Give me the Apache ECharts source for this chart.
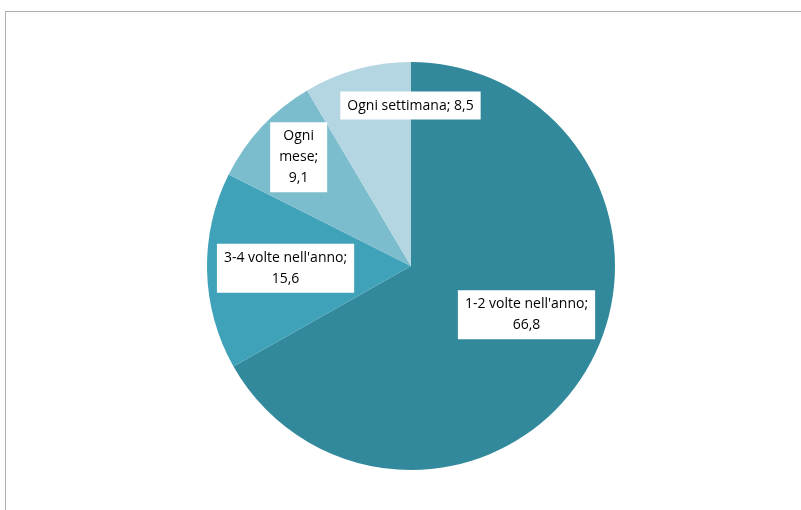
<!DOCTYPE html>
<html>
<head>
<meta charset="utf-8">
<style>
  html, body { margin: 0; padding: 0; background: #ffffff; }
  #frame { position: absolute; left: 5px; top: 11px; width: 810px; height: 520px;
           border: 1px solid #adadad; box-sizing: border-box; }
  #chart { position: absolute; left: 0; top: 0; width: 801px; height: 510px; }
</style>
<script src="https://cdn.jsdelivr.net/npm/echarts@6/dist/echarts.min.js"></script>
</head>
<body>
<div id="frame"></div>
<div id="chart"></div>
<script>
// Frequency categories (clockwise from 12 o'clock) and their shares (%)
const categories = ['1-2 volte nell\'anno', '3-4 volte nell\'anno', 'Ogni mese', 'Ogni settimana'];
const values = [66.8, 15.6, 9.1, 8.5];
// Text shown in each label (line breaks as they appear in the boxes)
const labelNames = ['1-2 volte nell\'anno;', '3-4 volte nell\'anno;', 'Ogni\nmese;', 'Ogni settimana;'];
const labelSeparators = ['\n', '\n', '\n', ' '];

const colors = ['#32899b', '#3fa2b9', '#7bbccd', '#b4d6e2'];

// Label placement: radial distance as a fraction of the radius, plus a small nudge
const labelRadiusFrac = [0.61, 0.625, 0.76, 0.79];
const labelNudge = [[8, -14], [2, -1], [1, -3], [42, -5]];
// Box padding per label (the narrow "Ogni mese" box is a little wider)
const labelPadding = [[4, 7, 3, 7], [4, 7, 3, 7], [4, 9, 3, 9], [4, 7, 3, 7]];

const CX = 411, CY = 266, R = 204;
const total = values.reduce((a, b) => a + b, 0);

const chart = echarts.init(document.getElementById('chart'), null, { renderer: 'canvas' });

function fmt(v) { return v.toFixed(1).replace('.', ','); }

chart.setOption({
  animation: false,
  series: [{
    type: 'pie',
    center: [CX, CY],
    radius: [0, R],
    startAngle: 90,
    clockwise: true,
    avoidLabelOverlap: false,
    itemStyle: { borderWidth: 0 },
    label: {
      show: true,
      position: 'inside',
      color: '#000000',
      backgroundColor: '#ffffff',
      fontFamily: 'Open Sans, Liberation Sans, Arial, sans-serif',
      fontSize: 14,
      lineHeight: 21,
      padding: [4, 7, 3, 7],
      align: 'center',
      formatter: p => labelNames[p.dataIndex] + labelSeparators[p.dataIndex] + fmt(p.value)
    },
    labelLine: { show: false },
    labelLayout: function (params) {
      const i = params.dataIndex;
      let before = 0;
      for (let k = 0; k < i; k++) before += values[k];
      const mid = (before + values[i] / 2) / total * Math.PI * 2;
      const r = R * labelRadiusFrac[i];
      return {
        x: CX + r * Math.sin(mid) + labelNudge[i][0],
        y: CY - r * Math.cos(mid) + labelNudge[i][1],
        align: 'center',
        verticalAlign: 'middle'
      };
    },
    data: categories.map((c, i) => ({
      name: c,
      value: values[i],
      itemStyle: { color: colors[i] },
      label: { padding: labelPadding[i] }
    }))
  }]
});
</script>
</body>
</html>
